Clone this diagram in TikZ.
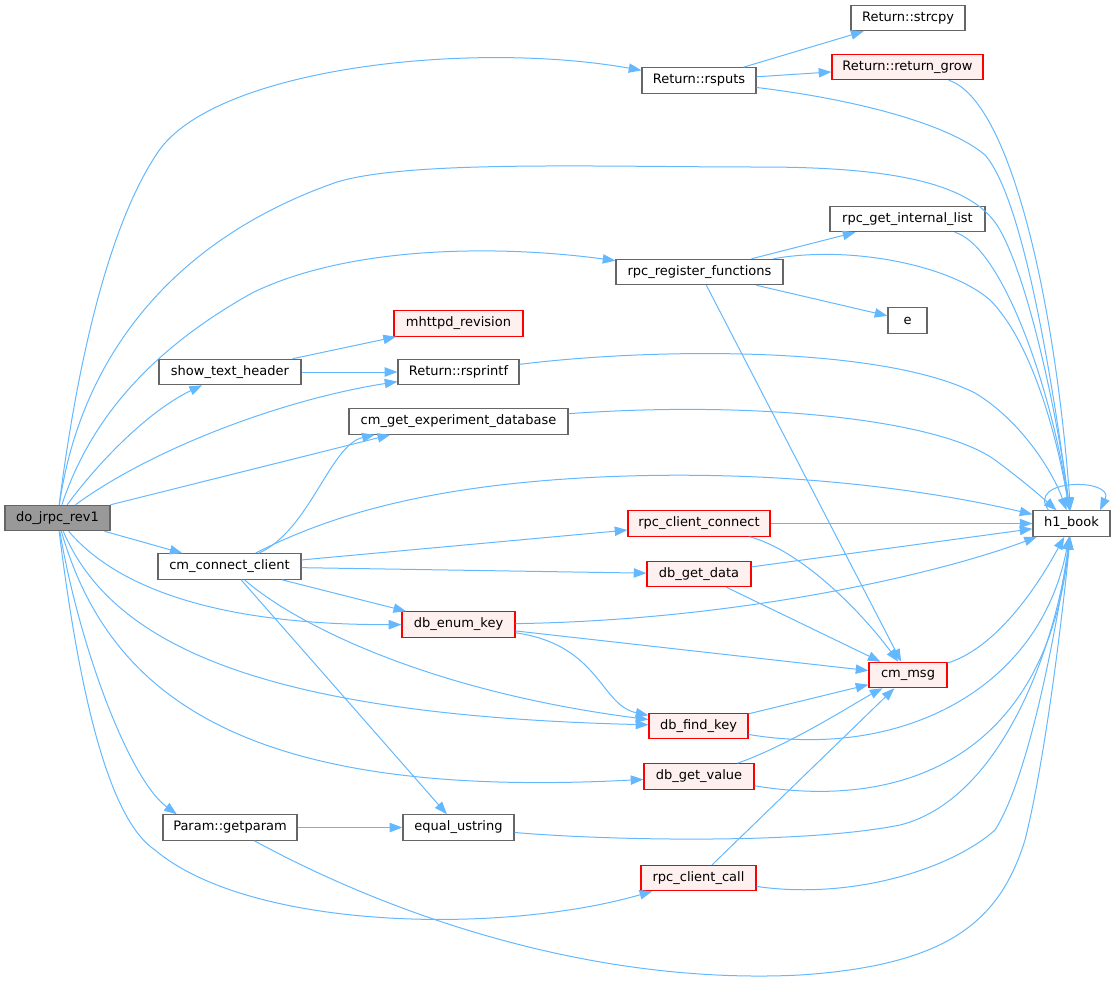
\documentclass[tikz,border=0pt]{standalone}
\usepackage{fontspec}
\setmainfont{DejaVu Sans}
\usepackage{tikz}
\usetikzlibrary{arrows.meta}
\definecolor{fgray}{HTML}{666666}
\definecolor{fred}{HTML}{FFF0F0}
\definecolor{mgray}{HTML}{999999}
\definecolor{eblue}{HTML}{63B8FF}
\tikzset{
  fn/.style={draw=fgray, fill=white, line width=0.9pt, minimum height=19pt, inner sep=0pt, font=\fontsize{9.75}{12}\selectfont},
  fnred/.style={fn, draw=red, fill=fred},
  fnmain/.style={fn, fill=mgray},
  edge/.style={draw=eblue, line width=0.75pt, -{Triangle[length=9.5pt, width=7pt]}},
}

\begin{document}
\begin{tikzpicture}[x=0.75pt, y=-0.75pt]
  % \draw[gray] (0,0) grid[step=100] (1116,983);
  \useasboundingbox (0,0) rectangle (1116,983);

  \node[fnmain, minimum width=78.75pt] (do) at (57.5,518) {do\_jrpc\_rev1};
  \node[fn, minimum width=85.5pt] (strcpy) at (908,18) {Return::strcpy};
  \node[fnred, minimum width=113.25pt] (rgrow) at (907.5,67) {Return::return\_grow};
  \node[fn, minimum width=85.5pt] (rsputs) at (699,80.5) {Return::rsputs};
  \node[fn, minimum width=116.25pt] (getlist) at (907.5,219) {rpc\_get\_internal\_list};
  \node[fn, minimum width=125.25pt] (regfn) at (699.5,272) {rpc\_register\_functions};
  \node[fn, minimum width=29.25pt] (e) at (907.5,320.5) {e};
  \node[fnred, minimum width=96.75pt] (mhrev) at (458.5,323.5) {mhttpd\_revision};
  \node[fn, minimum width=106.5pt] (sth) at (230,372) {show\_text\_header};
  \node[fn, minimum width=90.75pt] (rsprintf) at (458.5,372) {Return::rsprintf};
  \node[fn, minimum width=164.25pt] (cmgetdb) at (458.5,421.5) {cm\_get\_experiment\_database};
  \node[fn, minimum width=57.75pt] (h1) at (1071.5,523.5) {h1\_book};
  \node[fnred, minimum width=106.5pt] (rcc) at (699,523.5) {rpc\_client\_connect};
  \node[fn, minimum width=107.25pt] (cmcc) at (229.5,566.5) {cm\_connect\_client};
  \node[fnred, minimum width=78pt] (dbgd) at (699,574) {db\_get\_data};
  \node[fnred, minimum width=84.75pt] (dbek) at (458.5,624.5) {db\_enum\_key};
  \node[fnred, minimum width=58.5pt] (cmmsg) at (908,675) {cm\_msg};
  \node[fnred, minimum width=74.25pt] (dbfk) at (698.5,726) {db\_find\_key};
  \node[fnred, minimum width=82.5pt] (dbgv) at (699,776.5) {db\_get\_value};
  \node[fn, minimum width=100.5pt] (gparam) at (230,827.5) {Param::getparam};
  \node[fn, minimum width=83.25pt] (equs) at (458.5,827.5) {equal\_ustring};
  \node[fnred, minimum width=86.25pt] (rpccall) at (698.5,878) {rpc\_client\_call};

  % calls from do_jrpc_rev1
  \draw[edge] (do) .. controls (75,380) and (105,230) .. (158,152) .. controls (215,68) and (470,40) .. (rsputs);
  \draw[edge] (do) .. controls (80,360) and (170,240) .. (337,182) .. controls (410,160) and (600,167) .. (760,167) .. controls (900,167) and (975,185) .. (1000,230) .. controls (1030,284) and (1058,420) .. (h1);
  \draw[edge] (do) .. controls (90,420) and (150,350) .. (252,293) .. controls (350,245) and (500,245) .. (regfn);
  \draw[edge] (do) .. controls (100,460) and (150,410) .. (sth);
  \draw[edge] (do) .. controls (150,450) and (280,400) .. (rsprintf);
  \draw[edge] (do) -- (cmgetdb.191);
  \draw[edge] (do) -- (cmcc);
  \draw[edge] (do) .. controls (110,580) and (200,625) .. (dbek);
  \draw[edge] (do) .. controls (110,640) and (250,715) .. (dbfk);
  \draw[edge] (do) .. controls (110,700) and (250,800) .. (dbgv);
  \draw[edge] (do) .. controls (80,650) and (130,780) .. (gparam.166);
  \draw[edge] (do) .. controls (80,700) and (110,820) .. (155,850) .. controls (250,930) and (500,935) .. (rpccall);

  % calls from cm_connect_client
  \draw[edge] (cmcc) .. controls (310,530) and (330,445) .. (cmgetdb.189);
  \draw[edge] (cmcc) .. controls (330,515) and (430,485) .. (600,477) .. controls (800,468) and (950,495) .. (h1);
  \draw[edge] (cmcc) -- (rcc);
  \draw[edge] (cmcc) -- (dbgd);
  \draw[edge] (cmcc) -- (dbek);
  \draw[edge] (cmcc) .. controls (290,620) and (420,690) .. (dbfk);
  \draw[edge] (cmcc) -- (equs);

  \draw[edge] (sth) -- (mhrev);
  \draw[edge] (sth) -- (rsprintf);
  \draw[edge] (rsputs) -- (strcpy);
  \draw[edge] (rsputs) -- (rgrow);
  \draw[edge] (rsputs) .. controls (860,100) and (950,125) .. (985,155) .. controls (1025,200) and (1055,400) .. (h1);
  \draw[edge] (rgrow) .. controls (1010,100) and (1055,300) .. (h1);
  \draw[edge] (regfn) -- (getlist);
  \draw[edge] (regfn) .. controls (850,245) and (950,265) .. (990,300) .. controls (1030,340) and (1056,430) .. (h1);
  \draw[edge] (regfn) -- (e);
  \draw[edge] (regfn) -- (cmmsg);
  \draw[edge] (getlist) .. controls (1000,245) and (1050,380) .. (h1);
  \draw[edge] (rsprintf) .. controls (650,348) and (880,345) .. (975,393) .. controls (1020,420) and (1052,470) .. (h1);
  \draw[edge] (cmgetdb) .. controls (760,400) and (940,420) .. (995,460) .. controls (1025,482) and (1045,500) .. (h1);
  \draw[edge] (rcc) -- (h1);
  \draw[edge] (rcc) .. controls (800,550) and (860,610) .. (cmmsg);
  \draw[edge] (dbgd) -- (h1);
  \draw[edge] (dbgd) -- (cmmsg);
  \draw[edge] (dbek) .. controls (750,620) and (950,570) .. (h1);
  \draw[edge] (dbek) -- (cmmsg);
  \draw[edge] (dbek) .. controls (600,645) and (600,705) .. (dbfk);
  \draw[edge] (cmmsg) .. controls (990,650) and (1030,600) .. (h1);
  \draw[edge] (dbfk) -- (cmmsg);
  \draw[edge] (dbfk) .. controls (900,760) and (1040,690) .. (h1);
  \draw[edge] (dbgv) .. controls (790,745) and (860,700) .. (cmmsg);
  \draw[edge] (dbgv) .. controls (900,810) and (1045,760) .. (h1);
  \draw[edge] (gparam) -- (equs);
  \draw[edge] (gparam) .. controls (400,920) and (600,985) .. (800,975) .. controls (950,965) and (1000,920) .. (1025,840) .. controls (1045,760) and (1062,620) .. (h1);
  \draw[edge] (equs) .. controls (600,840) and (800,845) .. (900,825) .. controls (1000,800) and (1055,650) .. (h1);
  \draw[edge] (rpccall) -- (cmmsg);
  \draw[edge] (rpccall) .. controls (850,900) and (950,870) .. (995,830) .. controls (1030,775) and (1058,620) .. (h1);
  % recursion
  \draw[edge] (h1.150) .. controls (1025,478) and (1115,478) .. (h1.25);
\end{tikzpicture}
\end{document}
